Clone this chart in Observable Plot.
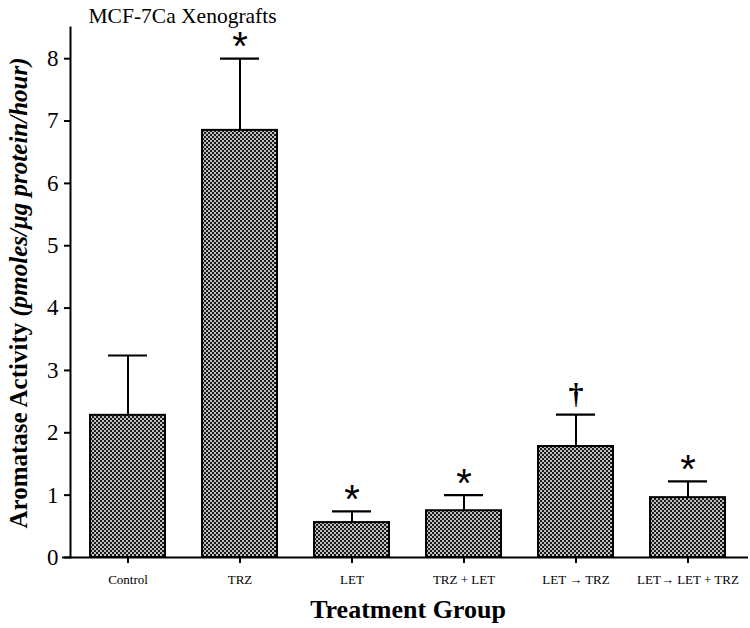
<!DOCTYPE html>
<html>
<head>
<meta charset="utf-8">
<script src="https://cdn.jsdelivr.net/npm/d3@7"></script>
<script src="https://cdn.jsdelivr.net/npm/@observablehq/plot@0.6"></script>
<style>
  html, body { margin: 0; padding: 0; background: #fff; }
  #chart svg { display: block; }
</style>
</head>
<body>
<div id="chart"></div>
<script>
const groups = ["Control", "TRZ", "LET", "TRZ + LET", "LET \u2192 TRZ", "LET\u2192 LET + TRZ"];
const means = [2.28, 6.85, 0.56, 0.75, 1.78, 0.96];
const upperErr = [3.24, 8.0, 0.74, 1.0, 2.29, 1.22];
const marks = ["", "*", "*", "*", "\u2020", "*"];
const yTicks = [0, 1, 2, 3, 4, 5, 6, 7, 8];
const title = "MCF-7Ca Xenografts";
const xLabel = "Treatment Group";
const yLabelMain = "Aromatase Activity ";
const yLabelUnit = "(pmoles/\u03bcg protein/hour)";

const data = groups.map((g, i) => ({group: g, mean: means[i], err: upperErr[i], mark: marks[i]}));
const serif = "Liberation Serif";

const chart = Plot.plot({
  width: 750,
  height: 628,
  marginLeft: 70,
  marginRight: 5,
  marginTop: 27,
  marginBottom: 71,
  style: {fontFamily: serif, background: "#fff", color: "#000"},
  x: {domain: groups, paddingInner: 0.33, paddingOuter: 0.165, label: null},
  y: {domain: [0, 8.5], label: null},
  marks: [
    Plot.ruleX(data, {x: "group", y1: "mean", y2: "err", stroke: "#000", strokeWidth: 2}),
    Plot.tickY(data, {x: "group", y: "err", stroke: "#000", strokeWidth: 2.2, insetLeft: 18, insetRight: 18}),
    Plot.barY(data, {x: "group", y: "mean", fill: "url(#hatch)", stroke: "#000", strokeWidth: 2}),
    Plot.text(data.filter(d => d.mark === "*"), {x: "group", y: "err", text: "mark", dy: -11, fontSize: 40, fontFamily: "Liberation Sans", lineAnchor: "middle", fill: "#000"}),
    Plot.text(data.filter(d => d.mark === "\u2020"), {x: "group", y: "err", text: "mark", dy: -20, fontSize: 30, fontWeight: "bold", fontFamily: serif, lineAnchor: "middle", fill: "#000"}),
    Plot.axisY({ticks: yTicks, tickSize: 6, tickPadding: 6, fontSize: 23, fontFamily: serif, strokeWidth: 2, label: null, tickFormat: d3.format("d")}),
    Plot.axisX({tickSize: 6, tickPadding: 11, fontSize: 13, fontFamily: serif, strokeWidth: 2, label: null}),
    Plot.ruleY([0], {stroke: "#000", strokeWidth: 2, insetLeft: -8, insetRight: -3}),
    Plot.frame({anchor: "left", stroke: "#000", strokeWidth: 2}),
    Plot.text([title], {frameAnchor: "top-left", dx: 18, dy: -5, lineAnchor: "bottom", fontSize: 21.5, fontFamily: serif, fill: "#000"}),
    Plot.text([xLabel], {frameAnchor: "bottom", dx: 0, dy: 60, lineAnchor: "bottom", fontSize: 26, fontWeight: "bold", fontFamily: serif, fill: "#000"})
  ]
});

const svg = d3.select(chart);
const defs = svg.insert("defs", ":first-child");
const pat = defs.append("pattern").attr("id", "hatch").attr("patternUnits", "userSpaceOnUse").attr("width", 4).attr("height", 4);
pat.append("rect").attr("width", 4).attr("height", 4).attr("fill", "#c0c0c0");
pat.append("rect").attr("width", 2).attr("height", 2).attr("fill", "#1a1a1a");
pat.append("rect").attr("x", 2).attr("y", 2).attr("width", 2).attr("height", 2).attr("fill", "#1a1a1a");

const yl = svg.append("text")
  .attr("transform", "translate(27,293) rotate(-90)")
  .attr("text-anchor", "middle")
  .attr("font-family", serif)
  .attr("font-size", 25)
  .attr("font-weight", "bold")
  .attr("fill", "#000");
yl.append("tspan").text(yLabelMain);
yl.append("tspan").attr("font-style", "italic").text(yLabelUnit);

document.getElementById("chart").appendChild(chart);
</script>
</body>
</html>
